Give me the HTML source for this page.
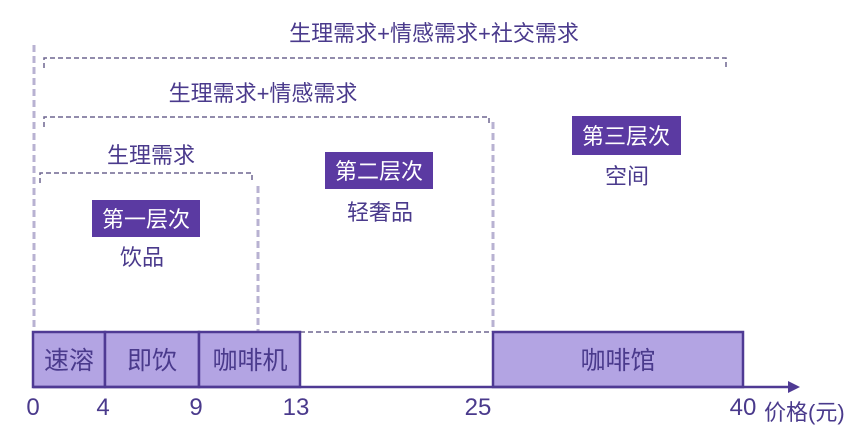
<!DOCTYPE html>
<html><head><meta charset="utf-8"><style>
html,body{margin:0;padding:0;background:#fff}
svg text{font-family:"Liberation Sans","Noto Sans CJK SC",sans-serif;fill:#4a3a8c}
</style></head><body>
<svg width="864" height="443" viewBox="0 0 864 443" xmlns="http://www.w3.org/2000/svg">
<g stroke="#b8b2d2" stroke-width="3" stroke-dasharray="7,4" fill="none">
<line x1="34" y1="45" x2="34" y2="332"/>
<line x1="258" y1="186" x2="258" y2="372"/>
<line x1="493" y1="122" x2="493" y2="332"/>
</g>
<g stroke="#6e6790" stroke-width="1.5" stroke-dasharray="5,3" fill="none">
<path d="M44 68 V58 H726 V68"/>
<path d="M44 127 V117 H489 V126"/>
<path d="M40 183 V173 H252 V182"/>
<line x1="300" y1="332" x2="493" y2="332"/>
</g>
<g stroke="#4f3a94" stroke-width="2.5" fill="#b3a4e3">
<rect x="33" y="332" width="72" height="55"/>
<rect x="105" y="332" width="94" height="55"/>
<rect x="199" y="332" width="101" height="55"/>
<rect x="493" y="332" width="250" height="55"/>
</g>
<line x1="33" y1="387" x2="790" y2="387" stroke="#4f3a94" stroke-width="2.5"/>
<polygon points="788,381 800,387 788,393" fill="#4f3a94"/>
<g font-size="25" text-anchor="middle">
<text x="69" y="369">速溶</text>
<text x="152" y="369">即饮</text>
<text x="250" y="369">咖啡机</text>
<text x="618" y="369">咖啡馆</text>
</g>
<g font-size="24" text-anchor="middle">
<text x="33" y="415">0</text>
<text x="103" y="415">4</text>
<text x="196" y="415">9</text>
<text x="296" y="415">13</text>
<text x="478" y="415">25</text>
<text x="743" y="415">40</text>
</g>
<text x="764" y="420" font-size="22">价格(元)</text>
<g font-size="22" text-anchor="middle">
<text x="434" y="41">生理需求+情感需求+社交需求</text>
<text x="263" y="101">生理需求+情感需求</text>
<text x="151" y="163">生理需求</text>
<text x="142" y="265">饮品</text>
<text x="380" y="220">轻奢品</text>
<text x="627" y="184">空间</text>
</g>
<g fill="#5b3aa2">
<rect x="92" y="200" width="108" height="37"/>
<rect x="325" y="152" width="108" height="37"/>
<rect x="572" y="116" width="109" height="39"/>
</g>
<g font-size="22" text-anchor="middle">
<text x="146" y="227" style="fill:#fff">第一层次</text>
<text x="379" y="179" style="fill:#fff">第二层次</text>
<text x="626" y="144" style="fill:#fff">第三层次</text>
</g>
</svg>
</body></html>
